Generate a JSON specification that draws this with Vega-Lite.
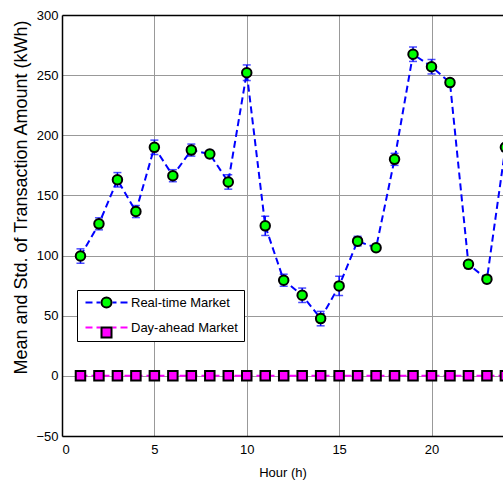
{
  "$schema": "https://vega.github.io/schema/vega-lite/v6.json",
  "autosize": {"type": "none"},
  "padding": {"left": 62, "top": 15, "right": 0, "bottom": 45},
  "width": 441,
  "height": 421,
  "background": "white",
  "config": {
    "view": {"stroke": null},
    "font": "Liberation Sans",
    "axis": {
      "labelFontSize": 13,
      "labelColor": "black",
      "titleFontSize": 13,
      "titleFontWeight": "normal",
      "titleColor": "black",
      "domainColor": "black",
      "domainWidth": 1.5,
      "ticks": false,
      "grid": true,
      "gridWidth": 1
    }
  },
  "data": {
    "values": [
      {"hour": 1, "mean": 99.6, "std": 6, "series": "Real-time Market"},
      {"hour": 2, "mean": 126.4, "std": 5, "series": "Real-time Market"},
      {"hour": 3, "mean": 163, "std": 6, "series": "Real-time Market"},
      {"hour": 4, "mean": 136.6, "std": 5, "series": "Real-time Market"},
      {"hour": 5, "mean": 190, "std": 6, "series": "Real-time Market"},
      {"hour": 6, "mean": 166.4, "std": 5, "series": "Real-time Market"},
      {"hour": 7, "mean": 187.7, "std": 5, "series": "Real-time Market"},
      {"hour": 8, "mean": 184.4, "std": 3, "series": "Real-time Market"},
      {"hour": 9, "mean": 161.2, "std": 6, "series": "Real-time Market"},
      {"hour": 10, "mean": 252, "std": 6.5, "series": "Real-time Market"},
      {"hour": 11, "mean": 124.7, "std": 8, "series": "Real-time Market"},
      {"hour": 12, "mean": 79.5, "std": 5, "series": "Real-time Market"},
      {"hour": 13, "mean": 67, "std": 6, "series": "Real-time Market"},
      {"hour": 14, "mean": 47.6, "std": 6, "series": "Real-time Market"},
      {"hour": 15, "mean": 74.8, "std": 8, "series": "Real-time Market"},
      {"hour": 16, "mean": 112, "std": 4, "series": "Real-time Market"},
      {"hour": 17, "mean": 106.5, "std": 3, "series": "Real-time Market"},
      {"hour": 18, "mean": 180, "std": 5, "series": "Real-time Market"},
      {"hour": 19, "mean": 267.4, "std": 6, "series": "Real-time Market"},
      {"hour": 20, "mean": 257, "std": 6, "series": "Real-time Market"},
      {"hour": 21, "mean": 243.8, "std": 3, "series": "Real-time Market"},
      {"hour": 22, "mean": 92.7, "std": 3, "series": "Real-time Market"},
      {"hour": 23, "mean": 80.4, "std": 3, "series": "Real-time Market"},
      {"hour": 24, "mean": 190, "std": 3, "series": "Real-time Market"},
      {"hour": 1, "mean": 0, "std": 0, "series": "Day-ahead Market"},
      {"hour": 2, "mean": 0, "std": 0, "series": "Day-ahead Market"},
      {"hour": 3, "mean": 0, "std": 0, "series": "Day-ahead Market"},
      {"hour": 4, "mean": 0, "std": 0, "series": "Day-ahead Market"},
      {"hour": 5, "mean": 0, "std": 0, "series": "Day-ahead Market"},
      {"hour": 6, "mean": 0, "std": 0, "series": "Day-ahead Market"},
      {"hour": 7, "mean": 0, "std": 0, "series": "Day-ahead Market"},
      {"hour": 8, "mean": 0, "std": 0, "series": "Day-ahead Market"},
      {"hour": 9, "mean": 0, "std": 0, "series": "Day-ahead Market"},
      {"hour": 10, "mean": 0, "std": 0, "series": "Day-ahead Market"},
      {"hour": 11, "mean": 0, "std": 0, "series": "Day-ahead Market"},
      {"hour": 12, "mean": 0, "std": 0, "series": "Day-ahead Market"},
      {"hour": 13, "mean": 0, "std": 0, "series": "Day-ahead Market"},
      {"hour": 14, "mean": 0, "std": 0, "series": "Day-ahead Market"},
      {"hour": 15, "mean": 0, "std": 0, "series": "Day-ahead Market"},
      {"hour": 16, "mean": 0, "std": 0, "series": "Day-ahead Market"},
      {"hour": 17, "mean": 0, "std": 0, "series": "Day-ahead Market"},
      {"hour": 18, "mean": 0, "std": 0, "series": "Day-ahead Market"},
      {"hour": 19, "mean": 0, "std": 0, "series": "Day-ahead Market"},
      {"hour": 20, "mean": 0, "std": 0, "series": "Day-ahead Market"},
      {"hour": 21, "mean": 0, "std": 0, "series": "Day-ahead Market"},
      {"hour": 22, "mean": 0, "std": 0, "series": "Day-ahead Market"},
      {"hour": 23, "mean": 0, "std": 0, "series": "Day-ahead Market"},
      {"hour": 24, "mean": 0, "std": 0, "series": "Day-ahead Market"}
    ]
  },
  "encoding": {
    "x": {
      "field": "hour",
      "type": "quantitative",
      "scale": {"domain": [0, 23.87], "nice": false, "zero": false},
      "axis": {
        "values": [0, 5, 10, 15, 20],
        "title": "Hour (h)",
        "labelPadding": 7,
        "titlePadding": 10,
        "gridColor": "#999999"
      }
    },
    "y": {
      "field": "mean",
      "type": "quantitative",
      "scale": {"domain": [-50, 300], "nice": false},
      "axis": {
        "values": [-50, 0, 50, 100, 150, 200, 250, 300],
        "title": "Mean and Std. of Transaction Amount (kWh)",
        "titleFontSize": 18,
        "titleX": -41,
        "titleY": 182,
        "titleAlign": "center",
        "titleBaseline": "middle",
        "labelPadding": 4,
        "gridColor": {"condition": {"test": "datum.value === 300", "value": "black"}, "value": "#999999"},
        "gridWidth": {"condition": {"test": "datum.value === 300", "value": 1.5}, "value": 1}
      }
    }
  },
  "layer": [
    {
      "mark": {"type": "line", "strokeDash": [7, 4], "strokeWidth": 2, "clip": true},
      "encoding": {
        "color": {
          "field": "series",
          "type": "nominal",
          "scale": {"domain": ["Real-time Market", "Day-ahead Market"], "range": ["#0000ff", "#ff00ff"]},
          "legend": {
            "orient": "none",
            "legendX": 15,
            "legendY": 275,
            "title": null,
            "padding": 6,
            "fillColor": "white",
            "strokeColor": "black",
            "symbolType": "M-4.2,0H-2.8M-2,0H-1.2M1.2,0H2M2.8,0H4.2",
            "symbolSize": 100,
            "symbolStrokeWidth": 2,
            "symbolDash": [1, 0],
            "symbolOffset": 17,
            "labelOffset": 18,
            "labelFontSize": 13,
            "labelColor": "black",
            "rowPadding": 11
          }
        }
      }
    },
    {
      "transform": [{"filter": "datum.series === 'Real-time Market'"}],
      "mark": {
        "type": "errorbar",
        "clip": true,
        "color": "#0000ff",
        "ticks": {"size": 8, "thickness": 1.5, "color": "#0000ff"},
        "rule": {"strokeWidth": 1.5, "color": "#0000ff"}
      },
      "encoding": {
        "yError": {"field": "std"}
      }
    },
    {
      "mark": {"type": "point", "filled": true, "stroke": "black", "strokeWidth": 2, "size": 90, "opacity": 1, "clip": true},
      "encoding": {
        "fill": {
          "field": "series",
          "type": "nominal",
          "sort": "descending",
          "scale": {"range": ["#00ff00", "#ff00ff"]},
          "legend": {
            "orient": "none",
            "legendX": 15,
            "legendY": 275,
            "title": null,
            "padding": 6,
            "symbolSize": 100,
            "symbolStrokeWidth": 2,
            "symbolStrokeColor": "black",
            "symbolOpacity": 1,
            "symbolOffset": 17,
            "labelOffset": 18,
            "labelFontSize": 13,
            "labelExpr": "''",
            "rowPadding": 11,
            "encode": {"symbols": {"update": {"stroke": {"value": "black"}, "strokeWidth": {"value": 2}}}}
          }
        },
        "shape": {
          "field": "series",
          "type": "nominal",
          "sort": "descending",
          "scale": {"range": ["circle", "square"]},
          "legend": {
            "orient": "none",
            "legendX": 15,
            "legendY": 275,
            "title": null,
            "padding": 6,
            "symbolSize": 100,
            "symbolStrokeWidth": 2,
            "symbolStrokeColor": "black",
            "symbolOpacity": 1,
            "symbolOffset": 17,
            "labelOffset": 18,
            "labelFontSize": 13,
            "labelExpr": "''",
            "rowPadding": 11,
            "encode": {"symbols": {"update": {"stroke": {"value": "black"}, "strokeWidth": {"value": 2}}}}
          }
        }
      }
    }
  ]
}
